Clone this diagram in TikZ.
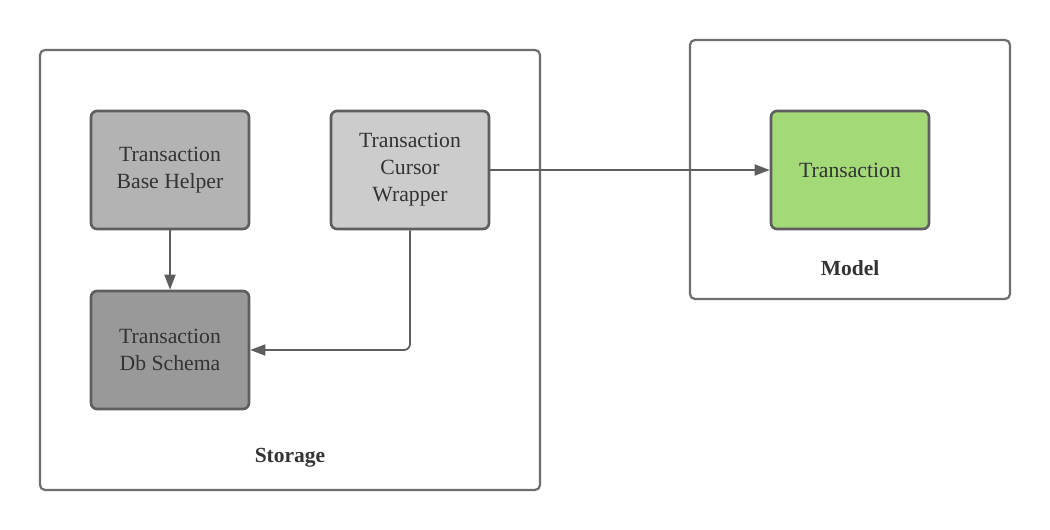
\documentclass[tikz,border=0pt]{standalone}
\usepackage{fontspec}
\setmainfont{Liberation Serif}
\usetikzlibrary{arrows.meta}
\definecolor{strokeg}{HTML}{5E5E5E}
\definecolor{txt}{HTML}{333333}
\definecolor{fillA}{HTML}{B3B3B3}
\definecolor{fillB}{HTML}{CCCCCC}
\definecolor{fillC}{HTML}{999999}
\definecolor{fillG}{HTML}{A3D977}
\begin{document}
\begin{tikzpicture}[x=1pt,y=1pt,
  container/.style={draw=strokeg!90!white, line width=2.2pt, rounded corners=5pt, fill=white},
  box/.style={draw=strokeg, line width=2.6pt, rounded corners=6pt, minimum width=158pt, minimum height=118pt, inner sep=0pt, align=center, text=txt, font=\fontsize{21.7}{27}\selectfont},
  lbl/.style={text=txt, font=\bfseries\fontsize{21.5}{24}\selectfont},
  conn/.style={draw=strokeg, line width=1.8pt, -{Triangle[length=15pt,width=11pt]}, rounded corners=6pt}]
\useasboundingbox (0,0) rectangle (1050,530);
\fill[white] (0,0) rectangle (1050,530);
\draw[container] (40,40) rectangle (540,480);
\draw[container] (690,231) rectangle (1010,490);
\node[box, fill=fillA] (bh) at (170,360) {Transaction\\Base Helper};
\node[box, fill=fillB] (cw) at (410,360) {Transaction\\Cursor\\Wrapper};
\node[box, fill=fillC] (db) at (170,180) {Transaction\\Db Schema};
\node[box, fill=fillG] (tr) at (850,360) {Transaction};
\node[lbl] (st) at (290,72) {Storage};
\node[lbl] (md) at (850,262) {Model};
\draw[conn] (bh.south) -- (db.north);
\draw[conn] (cw.south) |- (db.east);
\draw[conn] (cw.east) -- (tr.west);
\end{tikzpicture}
\end{document}
